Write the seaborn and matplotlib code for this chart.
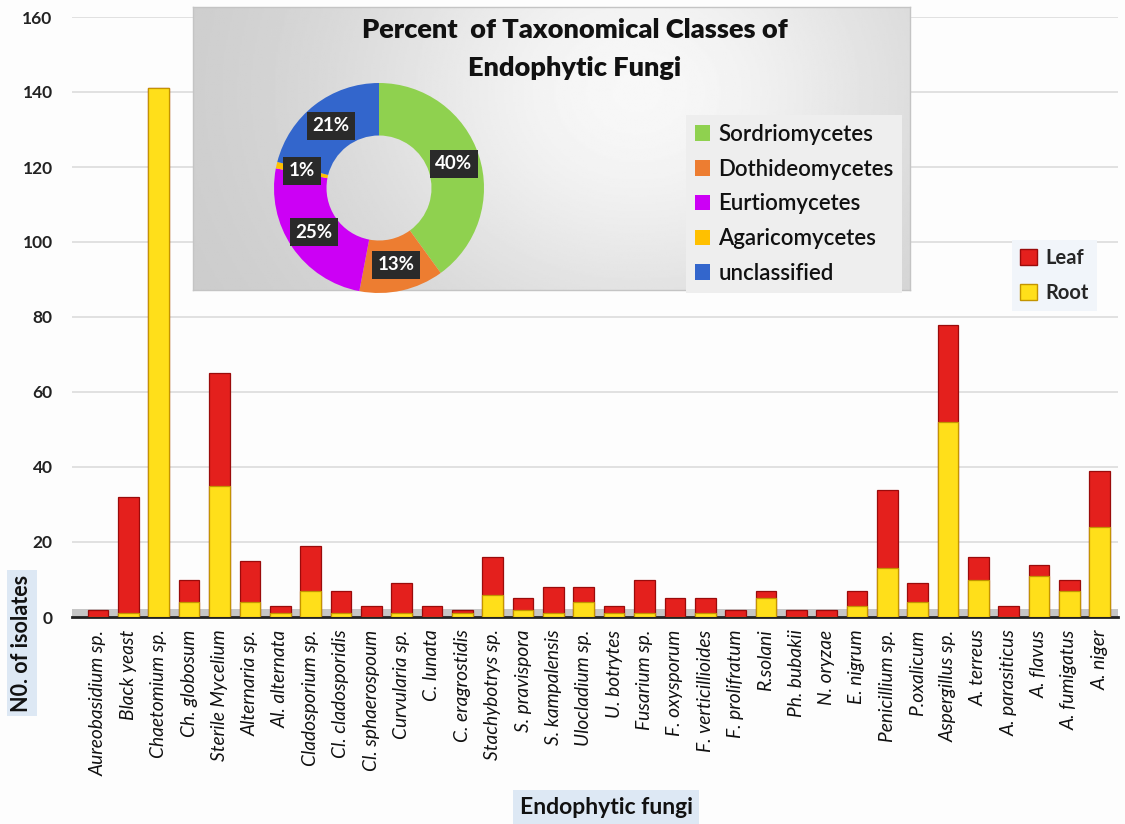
import numpy as np
import pandas as pd
import matplotlib
matplotlib.use('Agg')
import matplotlib.pyplot as plt
import seaborn as sns
from matplotlib.patches import Patch

# ---------------- data ----------------
categories = ['Aureobasidium sp.', 'Black yeast', 'Chaetomium sp.', 'Ch. globosum',
              'Sterile Mycelium', 'Alternaria sp.', 'Al. alternata', 'Cladosporium sp.',
              'Cl. cladosporidis', 'Cl. sphaerospoum', 'Curvularia sp.', 'C. lunata',
              'C. eragrostidis', 'Stachybotrys sp.', 'S. pravispora', 'S. kampalensis',
              'Ulocladium sp.', 'U. botrytes', 'Fusarium sp.', 'F. oxysporum',
              'F. verticillioides', 'F. prolifratum', 'R.solani', 'Ph. bubakii',
              'N. oryzae', 'E. nigrum', 'Penicillium sp.', 'P.oxalicum', 'Aspergillus sp.',
              'A. terreus', 'A. parasiticus', 'A. flavus', 'A. fumigatus', 'A. niger']
root = [0, 1, 141, 4, 35, 4, 1, 7, 1, 0, 1, 0, 1, 6, 2, 1, 4,
        1, 1, 0, 1, 0, 5, 0, 0, 3, 13, 4, 52, 10, 0, 11, 7, 24]
leaf = [2, 31, 0, 6, 30, 11, 2, 12, 6, 3, 8, 3, 1, 10, 3, 7, 4,
        2, 9, 5, 4, 2, 2, 2, 2, 4, 21, 5, 26, 6, 3, 3, 3, 15]
yticks = [0, 20, 40, 60, 80, 100, 120, 140, 160]

pie_labels = ['Sordriomycetes', 'Dothideomycetes', 'Eurtiomycetes', 'Agaricomycetes', 'unclassified']
pie_values = [40, 13, 25, 1, 21]
pie_colors = ['#8fd14f', '#ed7d31', '#cc00f5', '#ffc000', '#3366cc']

RED, RED_EDGE = '#e4201d', '#9a0b0b'
YEL, YEL_EDGE = '#ffdf1a', '#c39400'

# ---------------- style ----------------
sns.set_style('white')
plt.rcParams['font.family'] = ['Lato', 'DejaVu Sans']

W, H = 1125, 824
fig = plt.figure(figsize=(W / 100, H / 100), dpi=100, facecolor='#fdfdfd')


def fx(px):
    return px / W


def fy(py):
    return 1 - py / H


# ---------------- main bar chart ----------------
ax = fig.add_axes([fx(72), fy(617), fx(1118) - fx(72), fy(17) - fy(617)], zorder=0)
ax.set_facecolor('#fdfdfd')
df = pd.DataFrame({'fungus': categories, 'root': root, 'leaf': leaf})
df['total'] = df['root'] + df['leaf']

sns.barplot(data=df, x='fungus', y='total', color=RED, edgecolor=RED_EDGE, linewidth=0.9,
            width=0.68, saturation=1, errorbar=None, ax=ax, zorder=3)
sns.barplot(data=df, x='fungus', y='root', color=YEL, edgecolor=YEL_EDGE, linewidth=0.9,
            width=0.68, saturation=1, errorbar=None, ax=ax, zorder=4)

ax.axhspan(0, 2.2, color='#c6c6c6', zorder=1.5, lw=0)
ax.set_axisbelow(True)
ax.yaxis.grid(True, color='#d9d9d9', lw=1.1)
ax.xaxis.grid(False)
ax.set_ylim(0, 160)
ax.set_xlim(-0.86, 33.6)
ax.set_yticks(yticks)
ax.set_yticklabels([str(v) for v in yticks], fontsize=12.5, fontweight='bold', color='#222222')
ax.set_xticks(range(len(categories)))
ax.set_xticklabels(categories, rotation=90, fontstyle='italic', fontsize=13.8, color='#111111')
ax.tick_params(axis='y', length=0, pad=14)
ax.tick_params(axis='x', length=0, pad=9)
ax.set_xlabel('')
ax.set_ylabel('')
for s in ['top', 'right', 'left']:
    ax.spines[s].set_visible(False)
ax.spines['bottom'].set_color('#222222')
ax.spines['bottom'].set_linewidth(2)

# legend Leaf/Root
leg = fig.legend(handles=[Patch(fc=RED, ec=RED_EDGE, label='Leaf'),
                          Patch(fc=YEL, ec=YEL_EDGE, label='Root')],
                 loc='upper left', bbox_to_anchor=(fx(1012), fy(240)),
                 frameon=True, fancybox=False, framealpha=1,
                 prop={'size': 14.5, 'weight': 'bold'},
                 handlelength=0.85, handleheight=0.85, labelspacing=0.75, handletextpad=0.4,
                 borderpad=0.4, borderaxespad=0)
leg.get_frame().set_facecolor('#f1f5fa')
leg.get_frame().set_edgecolor('none')

# axis titles
fig.text(fx(22), fy(643), 'N0. of isolates', rotation=90, ha='center', va='center',
         fontsize=15.5, fontweight='bold', color='#111111',
         bbox=dict(boxstyle='square,pad=0.2', fc='#dde8f4', ec='none'))
fig.text(fx(606), fy(807), 'Endophytic fungi', ha='center', va='center',
         fontsize=16.5, fontweight='bold', color='#111111',
         bbox=dict(boxstyle='square,pad=0.3', fc='#dde8f4', ec='none'))

# ---------------- inset panel ----------------
panel = fig.add_axes([fx(193), fy(290), fx(910) - fx(193), fy(7) - fy(290)], zorder=1)
gx = np.linspace(0, 1, 400)
gy = np.linspace(0, 1, 160)
GX, GY = np.meshgrid(gx, gy)
grad = 0.79 + 0.18 * np.exp(-((GX - 0.62) / 0.42) ** 2 - ((GY - 0.30) / 0.9) ** 2)
panel.imshow(grad, cmap='gray', vmin=0, vmax=1, aspect='auto', extent=(0, 1, 0, 1),
             origin='upper')
panel.set_xlim(0, 1)
panel.set_ylim(0, 1)
panel.set_xticks([])
panel.set_yticks([])
for s in panel.spines.values():
    s.set_color('#c4c4c4')
    s.set_linewidth(1)

panel.text((575 - 193) / 717, (290 - 30) / 283, 'Percent  of Taxonomical Classes of',
           transform=panel.transAxes, ha='center', va='center', fontsize=19.5,
           fontweight='heavy', color='#111111')
panel.text((575 - 193) / 717, (290 - 68) / 283, 'Endophytic Fungi',
           transform=panel.transAxes, ha='center', va='center', fontsize=19.5,
           fontweight='heavy', color='#111111')

pleg = panel.legend(handles=[Patch(fc=c, ec='none', label=l) for c, l in zip(pie_colors, pie_labels)],
                    loc='upper left', bbox_to_anchor=((686 - 193) / 717, (290 - 115) / 283),
                    frameon=True, fancybox=False, framealpha=1,
                    prop={'size': 16, 'weight': 'semibold'},
                    handlelength=0.7, handleheight=0.7, labelspacing=0.62,
                    handletextpad=0.35, borderpad=0.4, borderaxespad=0)
pleg.get_frame().set_facecolor('#eeeeee')
pleg.get_frame().set_edgecolor('none')
for t in pleg.get_texts():
    t.set_color('#111111')

# ---------------- donut ----------------
pie_ax = fig.add_axes([fx(274), fy(293), 210 / W, 210 / H], zorder=2)
pie_ax.set_facecolor('none')
wedges, texts, autotexts = pie_ax.pie(
    pie_values, colors=pie_colors, startangle=90, counterclock=False, radius=1,
    wedgeprops=dict(width=0.5, edgecolor='none'), autopct='%1.0f%%', pctdistance=0.75,
    textprops=dict(color='white', fontweight='bold', fontsize=13.5))
for t in autotexts:
    t.set_bbox(dict(boxstyle='square,pad=0.3', fc='#2a2a2a', ec='none'))
pie_ax.set_xlim(-1, 1)
pie_ax.set_ylim(-1, 1)
pie_ax.axis('off')

fig.savefig('out.png', dpi=100, facecolor=fig.get_facecolor())
